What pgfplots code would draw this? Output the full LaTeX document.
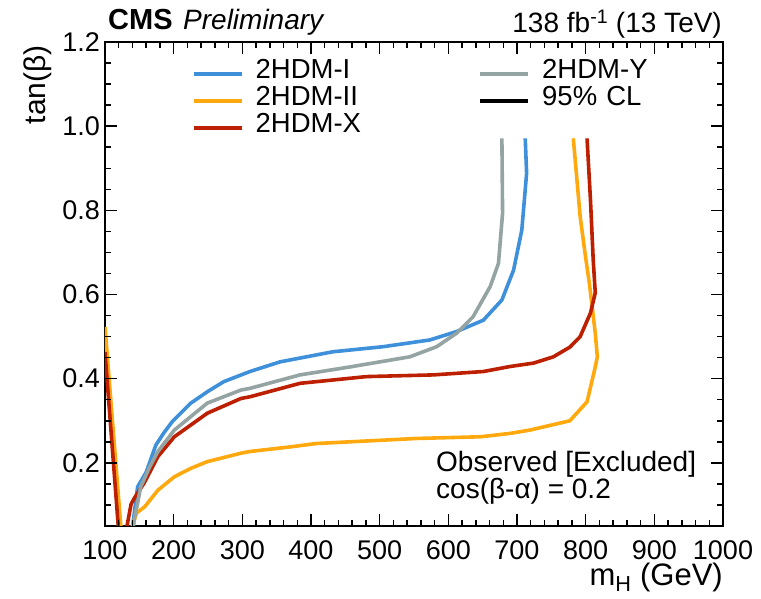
\documentclass[border=0pt]{standalone}
\usepackage{fontspec}
\setmainfont{Liberation Sans}
\usepackage{pgfplots}
\pgfplotsset{compat=1.18}

\definecolor{cmsblue}{HTML}{3F90DA}
\definecolor{cmsorange}{HTML}{FFA90E}
\definecolor{cmsred}{HTML}{BD1F01}
\definecolor{cmsgray}{HTML}{94A4A2}

\newcommand{\fs}[1]{\fontsize{#1}{#1}\selectfont}

% Observed exclusion contours, tan(beta) versus m_H, cos(beta-alpha) = 0.2
\pgfplotstableread{
x y
138 0.03
141 0.06
143 0.085
147.5 0.143
160 0.178
174 0.242
186 0.272
198 0.298
225 0.342
250 0.370
273 0.393
311 0.417
355 0.440
432 0.464
505 0.476
573 0.492
612 0.512
651 0.539
678 0.587
695 0.658
707 0.753
714 0.888
712 0.971
}\typeI

\pgfplotstableread{
x y
100 0.523
123 0.05
124 0.02
139 0.02
140 0.05
146 0.081
158 0.096
177 0.135
201 0.167
225 0.187
249 0.203
298 0.223
311 0.227
370 0.238
408 0.246
554 0.258
647 0.262
690 0.270
719 0.278
777 0.300
802 0.345
814 0.428
817 0.452
814 0.508
806 0.619
799 0.699
792 0.785
782 0.971
}\typeII

\pgfplotstableread{
x y
100 0.463
119.3 0.05
121 0.02
130 0.02
132 0.05
138 0.102
143 0.117
157 0.152
177 0.215
201 0.262
249 0.318
298 0.353
311 0.357
384 0.389
481 0.405
578 0.409
651 0.417
690 0.429
724 0.437
753 0.452
777 0.475
792 0.500
807 0.556
814 0.604
811 0.682
807 0.825
802 0.971
}\typeX

\pgfplotstableread{
x y
140 0.03
143 0.07
147 0.10
152 0.143
165 0.19
177 0.227
201 0.278
249 0.342
298 0.373
311 0.377
384 0.409
457 0.428
544 0.452
583 0.476
612 0.508
636 0.547
661 0.619
673 0.674
679 0.793
678 0.971
}\typeY

\begin{document}
\begin{tikzpicture}
\begin{axis}[
  scale only axis,
  width=618pt, height=484pt,
  xmin=100, xmax=1000,
  ymin=0.05, ymax=1.2,
  xtick={100,200,...,1000},
  ytick={0.2,0.4,...,1.2},
  minor x tick num=4,
  minor y tick num=3,
  xtick pos=both, ytick pos=both,
  tick align=inside,
  major tick length=12pt,
  minor tick length=6pt,
  axis line style={line width=1.4pt},
  tick style={black, line width=1.5pt},
  /pgf/number format/assume math mode=true,
  yticklabel style={/pgf/number format/fixed, /pgf/number format/fixed zerofill, /pgf/number format/precision=1},
  xticklabel style={/pgf/number format/fixed, /pgf/number format/1000 sep={}},
  tick label style={font=\fs{27}, inner sep=0pt},
  xticklabel style={yshift=-14pt},
  yticklabel style={xshift=-5pt},
  xlabel={m\textsubscript{H} (GeV)},
  ylabel={tan(β)},
  xlabel style={font=\fs{31}, at={(axis description cs:1,-0.123)}, anchor=base east, inner sep=0pt},
  ylabel style={font=\fs{30}, at={(axis description cs:-0.0955,0.9938)}, anchor=base east, inner sep=0pt},
  legend columns=2,
  legend cell align=left,
  legend image code/.code={\draw[#1] (0pt,0pt) -- (48pt,0pt);},
  legend style={draw=none, fill=none, inner sep=0pt, outer sep=0pt,
    at={(axis description cs:0.1408,0.955)}, anchor=north west,
    column sep=12pt, row sep=7pt, font=\fs{27.5},
    nodes={inner sep=0pt, text height=15pt, text depth=5pt, text width=211pt}},
]
\addplot[cmsblue, line width=3.6pt, forget plot] table[x=x,y=y] {\typeI};
\addplot[cmsorange, line width=3.6pt, forget plot] table[x=x,y=y] {\typeII};
\addplot[cmsred, line width=3.6pt, forget plot] table[x=x,y=y] {\typeX};
\addplot[cmsgray, line width=3.6pt, forget plot] table[x=x,y=y] {\typeY};

\addlegendimage{cmsblue, line width=3.6pt}
\addlegendentry{2HDM-I}
\addlegendimage{cmsgray, line width=3.6pt}
\addlegendentry{2HDM-Y}
\addlegendimage{cmsorange, line width=3.6pt}
\addlegendentry{2HDM-II}
\addlegendimage{black, line width=3.6pt}
\addlegendentry{95\% CL}
\addlegendimage{cmsred, line width=3.6pt}
\addlegendentry{2HDM-X}

\node[anchor=base west, inner sep=0pt, font=\fs{28}] at (axis description cs:0.5356,0.1116) {Observed [Excluded]};
\node[anchor=base west, inner sep=0pt, font=\fs{28}] at (axis description cs:0.5356,0.0558) {cos(β-α) = 0.2};
\end{axis}
% frame ticks on all four sides (axis box is 618pt x 484pt at the origin)
\begin{scope}[line width=1.5pt, black]
  \foreach \i in {1,...,44} {
    \draw (\i*13.7333pt,0pt) -- ++(0pt,6pt);
    \draw (\i*13.7333pt,484pt) -- ++(0pt,-6pt);
  }
  \foreach \i in {1,...,8} {
    \draw (\i*68.6667pt,0pt) -- ++(0pt,12pt);
    \draw (\i*68.6667pt,484pt) -- ++(0pt,-12pt);
  }
  \foreach \i in {1,...,22} {
    \draw (0pt,\i*21.0435pt) -- ++(6pt,0pt);
    \draw (618pt,\i*21.0435pt) -- ++(-6pt,0pt);
  }
  \foreach \i in {3,7,11,15,19} {
    \draw (0pt,\i*21.0435pt) -- ++(12pt,0pt);
    \draw (618pt,\i*21.0435pt) -- ++(-12pt,0pt);
  }
\end{scope}
\node[anchor=base west, inner sep=0pt, font=\fs{29}\bfseries] at (3pt,496pt) {CMS};
\node[anchor=base west, inner sep=0pt, font=\fs{28}\itshape] at (78pt,496pt) {Preliminary};
\node[anchor=base east, inner sep=0pt, font=\fs{28}] at (617pt,493pt) {138 fb\textsuperscript{-1} (13 TeV)};
% page frame
\path (-105pt,-73pt) rectangle (656pt,526pt);
\end{tikzpicture}
\end{document}
